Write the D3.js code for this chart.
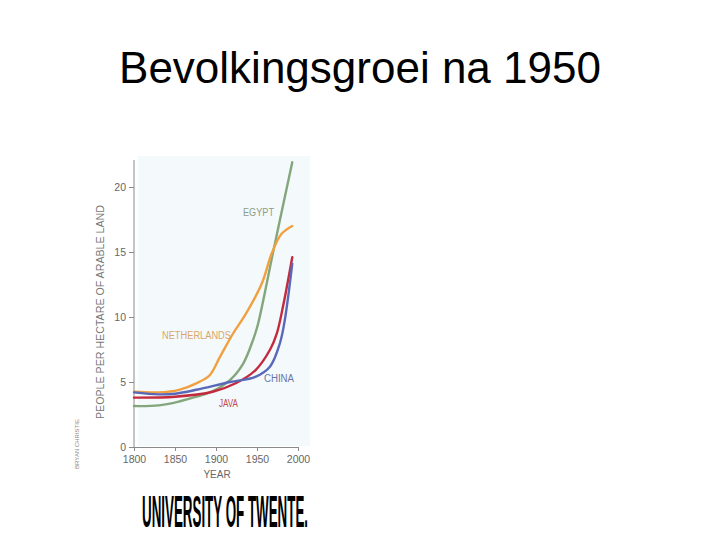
<!DOCTYPE html>
<html><head><meta charset="utf-8">
<script src="https://cdn.jsdelivr.net/npm/d3@7"></script>
<style>html,body{margin:0;padding:0;background:#fff;}svg{display:block;}</style>
</head><body>
<svg id="c" width="720" height="540"></svg>
<script>
const title = "Bevolkingsgroei na 1950";
const xTicks = [1800, 1850, 1900, 1950, 2000];
const yTicks = [0, 5, 10, 15, 20];
const seriesNames = ["EGYPT", "NETHERLANDS", "CHINA", "JAVA"];
const egyptYears  = [1800, 1830, 1855, 1875, 1896, 1917, 1933, 1945, 1951, 1970, 1993];
const egyptValues = [3.15, 3.2, 3.5, 3.85, 4.3, 5.15, 6.4, 8.2, 9.4, 15.1, 21.9];
const nethYears   = [1800, 1830, 1855, 1876, 1892, 1905, 1921, 1936, 1956, 1968, 1980, 1993];
const nethValues  = [4.25, 4.2, 4.4, 4.9, 5.5, 6.95, 8.75, 10.2, 12.6, 14.9, 16.4, 17.0];
const chinaYears  = [1800, 1830, 1850, 1876, 1917, 1948, 1966, 1978, 1984, 1993];
const chinaValues = [4.2, 4.05, 4.1, 4.4, 5.0, 5.4, 6.2, 8.0, 9.8, 14.1];
const javaYears   = [1800, 1850, 1896, 1924, 1948, 1966, 1974, 1982, 1993];
const javaValues  = [3.8, 3.87, 4.25, 4.9, 5.9, 7.5, 8.7, 10.9, 14.6];

const svg = d3.select("#c");
const x = d3.scaleLinear().domain([1800, 2000]).range([134, 298]);
const y = d3.scaleLinear().domain([0, 20]).range([447, 187]);

// title
svg.append("text").attr("x", 360).attr("y", 83).attr("text-anchor", "middle")
  .attr("font-family", "Liberation Sans, Arial, sans-serif").attr("font-size", 44)
  .attr("fill", "#000").text(title);

// faint plot background
svg.append("rect").attr("x", 138).attr("y", 156).attr("width", 172).attr("height", 290)
  .attr("fill", "#f4f9fb");

// axes
const ax = svg.append("g").attr("transform", `translate(0,${y(0)})`)
  .call(d3.axisBottom(x).tickValues(xTicks).tickFormat(d3.format("d")).tickSize(4).tickSizeOuter(0));
ax.select(".domain").attr("stroke", "#8a8a8a");
ax.selectAll(".tick line").attr("stroke", "#8a8a8a");
ax.selectAll(".tick text").attr("fill", "#666").attr("font-size", 10.5)
  .attr("font-family", "Liberation Sans Narrow, Liberation Sans, sans-serif").attr("dy", "0.9em");

const ay = svg.append("g").attr("transform", `translate(${x(1800)},0)`)
  .call(d3.axisLeft(y).tickValues(yTicks).tickSize(5).tickSizeOuter(0));
ay.select(".domain").attr("d", `M0,${y(0)}V${160}`).attr("stroke", "#8a8a8a");
ay.selectAll(".tick line").attr("stroke", "#8a8a8a");
ay.selectAll(".tick text").attr("fill", "#666").attr("font-size", 10.5)
  .attr("font-family", "Liberation Sans Narrow, Liberation Sans, sans-serif").attr("x", -8);

// axis titles
svg.append("text").attr("x", 217).attr("y", 478).attr("text-anchor", "middle")
  .attr("font-family", "Liberation Sans Narrow, Liberation Sans, sans-serif").attr("font-size", 10)
  .attr("fill", "#666").text("YEAR");
svg.append("text").attr("transform", "translate(104,312) rotate(-90)").attr("text-anchor", "middle")
  .attr("font-family", "Liberation Sans Narrow, Liberation Sans, sans-serif").attr("font-size", 11)
  .attr("fill", "#777").attr("textLength", 214).attr("lengthAdjust", "spacingAndGlyphs")
  .text("PEOPLE PER HECTARE OF ARABLE LAND");
svg.append("text").attr("transform", "translate(79,444) rotate(-90)").attr("text-anchor", "middle")
  .attr("font-family", "Liberation Sans Narrow, Liberation Sans, sans-serif").attr("font-size", 6)
  .attr("fill", "#888").text("BRYAN CHRISTIE");

// lines
const series = [
  {name: seriesNames[0], years: egyptYears, values: egyptValues, color: "#84a67c"},
  {name: seriesNames[1], years: nethYears, values: nethValues, color: "#f0a040"},
  {name: seriesNames[2], years: chinaYears, values: chinaValues, color: "#5a68b8"},
  {name: seriesNames[3], years: javaYears, values: javaValues, color: "#c42a3e"}
];
const line = d3.line().x(d => x(d[0])).y(d => y(d[1])).curve(d3.curveCatmullRom.alpha(0.5));
const drawOrder = [0, 1, 3, 2];
drawOrder.forEach(i => {
  const s = series[i];
  svg.append("path").attr("d", line(d3.zip(s.years, s.values)))
    .attr("fill", "none").attr("stroke", s.color).attr("stroke-width", 2.4)
    .attr("stroke-linecap", "round");
});

// series labels
const labelPos = [
  {x: 243, y: 216, color: "#8c9c84", w: 31},
  {x: 162, y: 339, color: "#dba66c", w: 69},
  {x: 264, y: 382, color: "#6a76a8", w: 30},
  {x: 219, y: 407, color: "#c44a52", w: 19}
];
series.forEach((s, i) => {
  svg.append("text").attr("x", labelPos[i].x).attr("y", labelPos[i].y)
    .attr("font-family", "Liberation Sans Narrow, Liberation Sans, sans-serif").attr("font-size", 10)
    .attr("fill", labelPos[i].color).attr("textLength", labelPos[i].w).attr("lengthAdjust", "spacingAndGlyphs")
    .text(s.name);
});

// logo
svg.append("text").attr("x", 142).attr("y", 527)
  .attr("font-family", "Liberation Sans Narrow, Liberation Sans, Arial, sans-serif").attr("font-weight", "bold")
  .attr("font-size", 44).attr("fill", "#000").attr("textLength", 166).attr("lengthAdjust", "spacingAndGlyphs")
  .text("UNIVERSITY OF TWENTE.");
</script>
</body></html>
